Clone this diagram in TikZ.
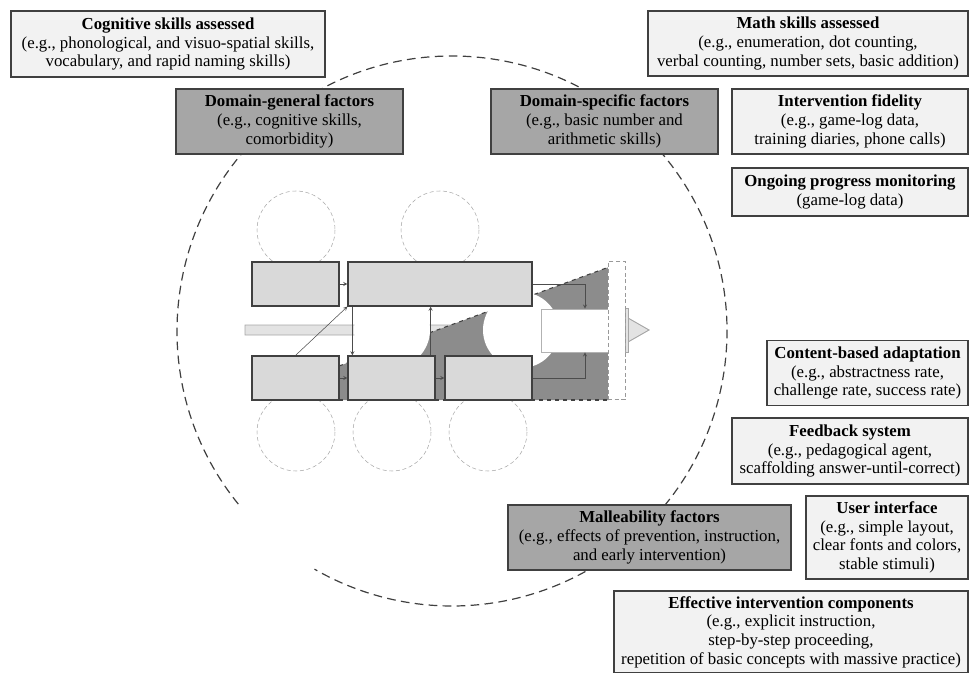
\documentclass[tikz,border=0pt]{standalone}
\usepackage{fontspec}
\setmainfont{Liberation Serif}
\usetikzlibrary{calc}
\definecolor{boxline}{HTML}{404040}
\definecolor{lightfill}{HTML}{F2F2F2}
\definecolor{factorfill}{HTML}{A6A6A6}
\definecolor{stagefill}{HTML}{D9D9D9}
\definecolor{wedgefill}{HTML}{8C8C8C}
\tikzset{
every picture/.style={line width=0.8pt, >=stealth},
%%%%%%%%%%  Box styles
infobox/.style={draw=boxline, fill=lightfill, line width=0.9pt, align=center,
                inner sep=2pt, font=\fontsize{12.6}{14}\selectfont},
factorbox/.style={infobox, fill=factorfill},
stage/.style={draw=boxline, fill=stagefill, line width=0.9pt, inner sep=0pt,
              minimum height=33pt},
%%%% different line styles:
ring/.style={dash pattern=on 6.5pt off 4pt, draw=black!75, line width=0.9pt},
ghost/.style={densely dashed, draw=gray!70, line width=0.4pt},
link/.style={->, draw=black!70, line width=0.4pt},
%%%%%%% Fill styles
wedge/.style={fill=wedgefill},
hole/.style={fill=white},
flow/.style={fill=gray!22, draw=gray!70, line width=0.7pt}
}
\begin{document}
\begin{tikzpicture}[x=0.75pt, y=-0.75pt]
\useasboundingbox (0,0) rectangle (969,673);
% outer dashed ring
\draw[ring] (452,331) ++(141:275) arc[start angle=141, end angle=480, radius=275];
% dashed ghost circles
\foreach \cx/\cy in {296/230, 440/230, 296/432, 392/432, 488/432}
  \draw[ghost] (\cx,\cy) circle[radius=39];
% main flow arrow
\draw[flow] (245,325) -- (628,325) -- (628,318) -- (649,330) -- (628,342)
            -- (628,335) -- (245,335) -- cycle;
% dark wedge
\fill[wedge] (339,366) -- (609,267) -- (609,400) -- (339,400) -- cycle;
\draw[dashed, draw=black!75] (339,366) -- (609,267);
\draw[dashed, draw=black!75] (339,400) -- (609,400);
\fill[hole] (392,330) circle[radius=38];
\fill[hole] (521,330) circle[radius=38];
% stages
\node[stage, minimum width=65.25pt] (ta) at (295.5,284) {};
\node[stage, minimum width=138pt] (tb) at (440,284) {};
\node[stage, minimum width=65.25pt] (ba) at (295.5,378) {};
\node[stage, minimum width=65.25pt] (bb) at (391.5,378) {};
\node[stage, minimum width=65.25pt] (bc) at (488.5,378) {};
\node[draw=gray!60, fill=white, line width=0.5pt, minimum width=51pt,
      minimum height=32.25pt, inner sep=0pt] (out) at (575,330.5) {};
\draw[flow, line width=0.4pt] (625,308) rectangle (628,352);
\node[ghost, draw=gray!80, fill=white, line width=0.7pt, minimum width=12.75pt,
      minimum height=103.5pt, inner sep=0pt] (gate) at (616.5,330.5) {};
% connectors
\coordinate (upfoot) at ([xshift=-3.75pt]bb.north east);
\draw[link] (ta) -- (tb);
\draw[link] (ba) -- (bb);
\draw[link] (bb) -- (bc);
\draw[link] (ba.north) -- (tb.south west);
\draw[link] ([xshift=3.75pt]tb.south west) -- ([xshift=3.75pt]bb.north west);
\draw[link] (upfoot) -- (upfoot |- tb.south);
\draw[link] (tb.east) -| ([xshift=7.5pt]out.north);
\draw[link] (bc.east) -| ([xshift=7.5pt]out.south);
% factor boxes
\node[factorbox, minimum width=170.25pt, minimum height=48.75pt] (dgen) at (289.5,121.5)
     {\textbf{Domain-general factors}\\(e.g., cognitive skills,\\comorbidity)};
\node[factorbox, minimum width=170.25pt, minimum height=48.75pt] (dspec) at (604.5,121.5)
     {\textbf{Domain-specific factors}\\(e.g., basic number and\\arithmetic skills)};
\node[factorbox, minimum width=212.25pt, minimum height=48.75pt] (mall) at (649.5,537.5)
     {\textbf{Malleability factors}\\(e.g., effects of prevention, instruction,\\and early intervention)};
% assessment and design boxes
\node[infobox, minimum width=235.5pt, minimum height=49.5pt] (cog) at (168,44)
     {\textbf{Cognitive skills assessed}\\(e.g., phonological, and visuo-spatial skills,\\vocabulary, and rapid naming skills)};
\node[infobox, minimum width=240pt, minimum height=48.75pt] (math) at (808,43.5)
     {\textbf{Math skills assessed}\\(e.g., enumeration, dot counting,\\verbal counting, number sets, basic addition)};
\node[infobox, minimum width=177pt, minimum height=48.75pt] (fid) at (850,121.5)
     {\textbf{Intervention fidelity}\\(e.g., game-log data,\\training diaries, phone calls)};
\node[infobox, minimum width=177pt, minimum height=36pt] (mon) at (850,192)
     {\textbf{Ongoing progress monitoring}\\(game-log data)};
\node[infobox, minimum width=150.75pt, minimum height=48.75pt] (adapt) at (867.5,373)
     {\textbf{Content-based adaptation}\\(e.g., abstractness rate,\\challenge rate, success rate)};
\node[infobox, minimum width=177pt, minimum height=49.5pt] (feed) at (850,451)
     {\textbf{Feedback system}\\(e.g., pedagogical agent,\\scaffolding answer-until-correct)};
\node[infobox, minimum width=121.5pt, minimum height=62.25pt] (ui) at (887,537.5)
     {\textbf{User interface}\\(e.g., simple layout,\\clear fonts and colors,\\stable stimuli)};
\node[infobox, minimum width=265.5pt, minimum height=61.5pt] (eff) at (791,632)
     {\textbf{Effective intervention components}\\(e.g., explicit instruction,\\step-by-step proceeding,\\repetition of basic concepts with massive practice)};
\end{tikzpicture}
\end{document}
